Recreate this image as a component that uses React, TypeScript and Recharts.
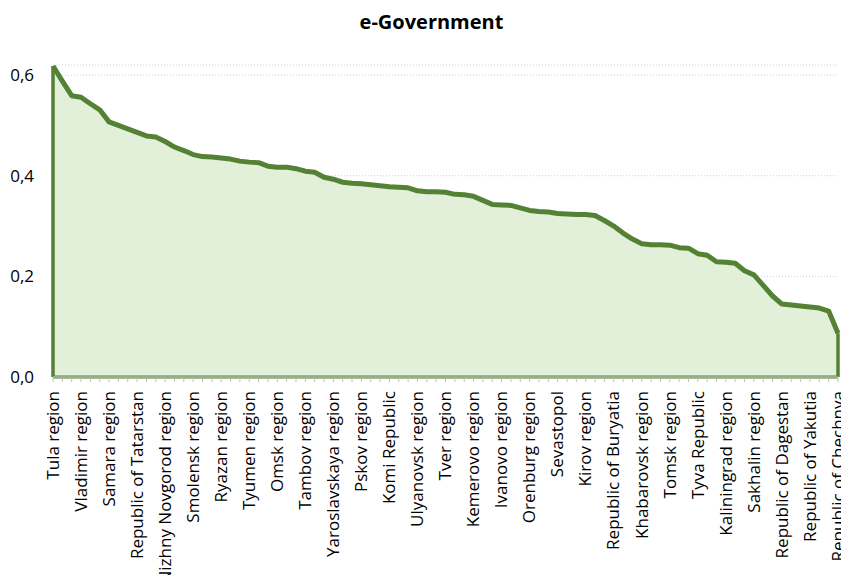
import { AreaChart, Area, XAxis, YAxis, CartesianGrid, ReferenceLine } from "recharts";

// regions in rank order; only every 3rd name is printed on the axis
const regions = [
  "Tula region", "Moscow", "Moscow region", "Vladimir region", "Saint Petersburg",
  "Belgorod region", "Samara region", "Lipetsk region", "Kaluga region", "Republic of Tatarstan",
  "Khanty-Mansi AO", "Leningrad region", "Nizhny Novgorod region", "Voronezh region", "Novosibirsk region",
  "Smolensk region", "Krasnodar region", "Chuvash Republic", "Ryazan region", "Republic of Bashkortostan",
  "Kursk region", "Tyumen region", "Yamalo-Nenets AO", "Sverdlovsk region", "Omsk region",
  "Perm region", "Rostov region", "Tambov region", "Chelyabinsk region", "Udmurt Republic",
  "Yaroslavskaya region", "Penza region", "Kostroma region", "Pskov region", "Bryansk region",
  "Vologda region", "Komi Republic", "Oryol region", "Novgorod region", "Ulyanovsk region",
  "Saratov region", "Stavropol region", "Tver region", "Republic of Mordovia", "Krasnoyarsk region",
  "Kemerovo region", "Murmansk region", "Irkutsk region", "Ivanovo region", "Volgograd region",
  "Astrakhan region", "Orenburg region", "Arkhangelsk region", "Republic of Karelia", "Sevastopol",
  "Mari El Republic", "Altai Krai", "Kirov region", "Kurgan region", "Republic of Crimea",
  "Republic of Buryatia", "Primorsky Krai", "Amur region", "Khabarovsk region", "Republic of Khakassia",
  "Republic of Adygea", "Tomsk region", "Kamchatka Krai", "Zabaykalsky Krai", "Tyva Republic",
  "Magadan region", "Republic of Kalmykia", "Kaliningrad region", "Altai Republic", "Nenets AO",
  "Sakhalin region", "Kabardino-Balkar Republic", "Jewish AO", "Republic of Dagestan", "North Ossetia-Alania",
  "Karachay-Cherkess Republic", "Republic of Yakutia", "Chukotka AO", "Republic of Ingushetia", "Republic of Chechnya",
];

const scores = [
  0.618, 0.588, 0.559, 0.556, 0.543, 0.531, 0.507, 0.500, 0.493, 0.486,
  0.479, 0.477, 0.468, 0.457, 0.450, 0.442, 0.438, 0.437, 0.435, 0.433,
  0.429, 0.427, 0.426, 0.419, 0.417, 0.417, 0.414, 0.409, 0.407, 0.397,
  0.393, 0.387, 0.385, 0.384, 0.382, 0.380, 0.378, 0.377, 0.376, 0.370,
  0.368, 0.368, 0.367, 0.363, 0.362, 0.359, 0.351, 0.343, 0.342, 0.341,
  0.336, 0.331, 0.329, 0.328, 0.325, 0.324, 0.323, 0.323, 0.321, 0.311,
  0.300, 0.286, 0.274, 0.265, 0.263, 0.263, 0.262, 0.257, 0.256, 0.245,
  0.242, 0.229, 0.228, 0.226, 0.211, 0.203, 0.182, 0.161, 0.145, 0.143,
  0.141, 0.139, 0.137, 0.131, 0.087,
];

const yTicks = [0, 0.2, 0.4, 0.6];

const data = regions.map((name, i) => ({ name, score: scores[i] }));

const GREEN = "#548235";
const FONT = "'Open Sans', sans-serif";

function RegionTick(props: any) {
  const { x, y, index, payload } = props;
  return (
    <g transform={`translate(${x},${y})`}>
      <line x1={0} x2={0} y1={-7} y2={-3} stroke="#bfbfbf" />
      {index % 3 === 0 && (
        <text transform="rotate(-90)" x={-6} y={0} dy="0.34em" textAnchor="end"
          fontSize={17} fontFamily={FONT} fill="#000">
          {payload.value}
        </text>
      )}
    </g>
  );
}

export default function App() {
  const first = regions[0];
  const last = regions[regions.length - 1];
  return (
    <div style={{ position: "relative", width: 841, height: 567 }}>
      <div style={{
        position: "absolute", top: 0, left: 7, width: 833, textAlign: "center",
        fontFamily: FONT, fontWeight: 700, fontSize: 20, color: "#000",
      }}>
        e-Government
      </div>
      <AreaChart width={841} height={567} data={data} style={{ overflow: "visible" }}
        margin={{ top: 57, right: 11, left: 0, bottom: 0 }}>
        <CartesianGrid vertical={false} stroke="#d0d0d0" strokeDasharray="1 2" />
        <XAxis dataKey="name" interval={0} height={198} tickLine={false}
          axisLine={{ stroke: "#d9d9d9" }} tick={<RegionTick />} />
        <YAxis domain={[0, 0.62]} ticks={yTicks} width={45} axisLine={false} tickLine={false}
          tickMargin={13} allowDataOverflow
          tick={{ fontSize: 17, fontFamily: FONT, fill: "#000" }}
          tickFormatter={(v) => Number(v).toFixed(1).replace(".", ",")} />
        <Area type="linear" dataKey="score" stroke={GREEN} strokeWidth={5} strokeLinejoin="round"
          fill="#e2efd9" fillOpacity={1} dot={false} activeDot={false} isAnimationActive={false} />
        <ReferenceLine y={0} stroke={GREEN} strokeWidth={3} />
        <ReferenceLine segment={[{ x: first, y: 0 }, { x: first, y: scores[0] }]} stroke={GREEN} strokeWidth={3.5} />
        <ReferenceLine segment={[{ x: last, y: 0 }, { x: last, y: scores[scores.length - 1] }]} stroke={GREEN} strokeWidth={3.5} />
      </AreaChart>
    </div>
  );
}
